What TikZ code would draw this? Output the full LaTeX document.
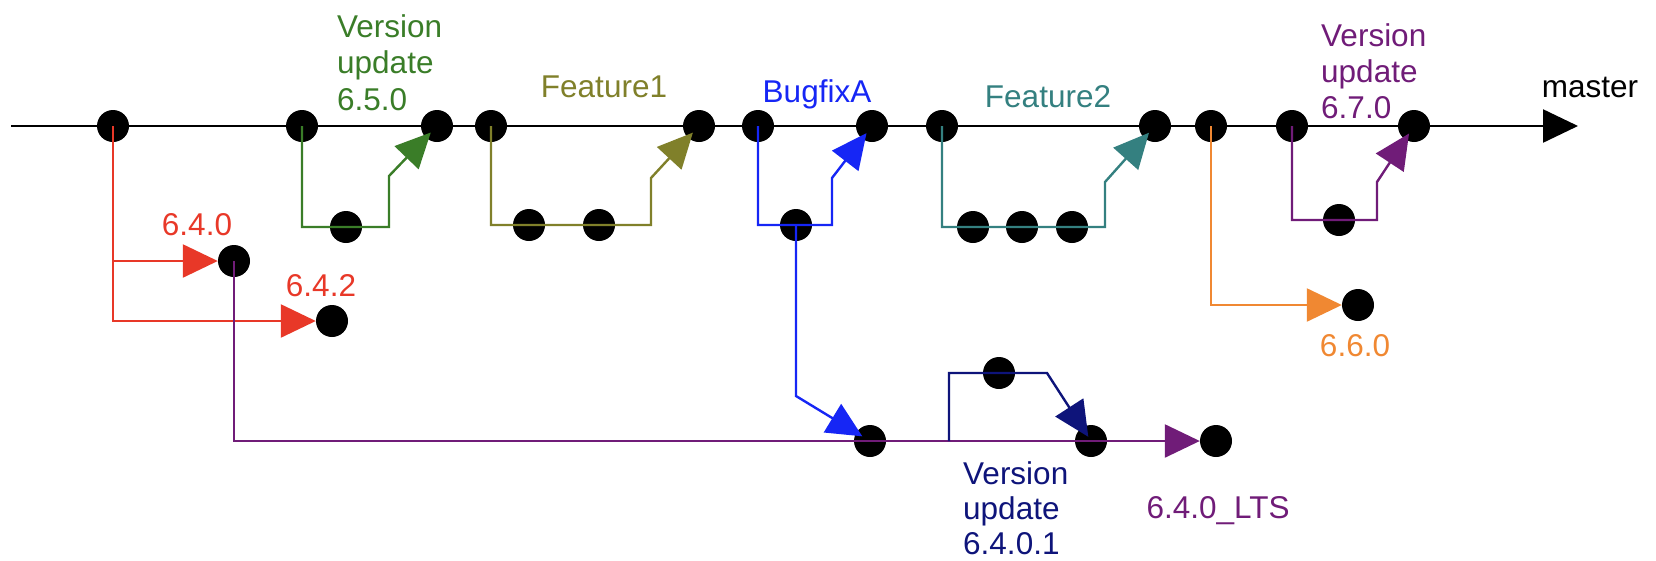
\documentclass[tikz,border=0pt]{standalone}
\usepackage{fontspec}
\setmainfont{Liberation Sans}
\usetikzlibrary{arrows.meta}
\definecolor{verGreen}{RGB}{58,125,40}
\definecolor{featOlive}{RGB}{128,128,42}
\definecolor{fixBlue}{RGB}{22,38,245}
\definecolor{featTeal}{RGB}{52,128,128}
\definecolor{relOrange}{RGB}{240,136,50}
\definecolor{verPurple}{RGB}{112,28,120}
\definecolor{relRed}{RGB}{232,56,40}
\definecolor{verNavy}{RGB}{14,20,122}
\begin{document}
\begin{tikzpicture}[x=1pt,y=-1pt,
  commit/.style={circle,fill=black,minimum size=32pt,inner sep=0pt},
  flow/.style={line width=2.4pt},
  merge/.style={flow,-{Triangle[length=35pt,width=33pt]}},
  lbl/.style={font=\fontsize{31.5}{36}\selectfont,inner sep=0pt,anchor=base},
  stack/.style={font=\fontsize{31.5}{36}\selectfont,inner sep=0pt,align=left,anchor=north west},
]
\useasboundingbox (0,0) rectangle (1656,560);

% commits on master
\node[commit] (m1)  at (113,126) {};
\node[commit] (m2)  at (302,126) {};
\node[commit] (m3)  at (437,126) {};
\node[commit] (m4)  at (491,126) {};
\node[commit] (m5)  at (699,126) {};
\node[commit] (m6)  at (758,126) {};
\node[commit] (m7)  at (872,126) {};
\node[commit] (m8)  at (942,126) {};
\node[commit] (m9)  at (1155,126) {};
\node[commit] (m10) at (1211,126) {};
\node[commit] (m11) at (1292,126) {};
\node[commit] (m12) at (1414,126) {};

% commits on side branches
\node[commit] (r1) at (234,261) {};
\node[commit] (r2) at (332,321) {};
\node[commit] (g1) at (346,227) {};
\node[commit] (o1) at (529,225) {};
\node[commit] (o2) at (599,225) {};
\node[commit] (b0) at (796,225) {};
\node[commit] (t1) at (973,227) {};
\node[commit] (t2) at (1022,227) {};
\node[commit] (t3) at (1072,227) {};
\node[commit] (p1) at (1339,220) {};
\node[commit] (or) at (1358,305) {};
\node[commit] (b1) at (870,441) {};
\node[commit] (d1) at (999,373) {};
\node[commit] (d2) at (1091,441) {};
\node[commit] (lts) at (1216,441) {};

% bends of the branch lines
\coordinate (mstart) at (11,126);
\coordinate (mend) at (1578,126);
\coordinate (gk) at (389,176);
\coordinate (ok) at (651,178);
\coordinate (bk) at (832,178);
\coordinate (bd) at (796,396);
\coordinate (tk) at (1105,182);
\coordinate (pk) at (1377,182);
\coordinate (nk0) at (949,441);
\coordinate (nk1) at (1047,373);

% master
\draw[merge,black] (mstart) -- (mend);

% releases 6.4.x
\draw[merge,relRed] (m1.center) |- (r2);
\draw[merge,relRed] (m1.center) |- (r1);

% version update 6.5.0
\draw[merge,verGreen,shorten >=9pt] (m2.center) |- (g1.center) -| (gk) -- (m3.center);

% feature 1
\draw[merge,featOlive,shorten >=9pt] (m4.center) |- (o1.center) -- (o2.center) -| (ok) -- (m5.center);

% bugfix A, merged into master and into the LTS line
\draw[merge,fixBlue,shorten >=9pt] (m6.center) |- (b0.center) -| (bk) -- (m7.center);
\draw[merge,fixBlue,shorten >=9pt] (b0.center) -- (bd) -- (b1.center);

% feature 2
\draw[merge,featTeal,shorten >=9pt] (m8.center) |- (t1.center) -- (t3.center) -| (tk) -- (m9.center);

% release 6.6.0
\draw[merge,relOrange] (m10.center) |- (or);

% version update 6.7.0
\draw[merge,verPurple,shorten >=9pt] (m11.center) |- (p1.center) -| (pk) -- (m12.center);

% LTS line
\draw[merge,verPurple] (r1.center) |- (lts);

% version update 6.4.0.1
\draw[merge,verNavy,shorten >=5pt] (nk0) |- (d1.center) -- (nk1) -- (d2.center);

% labels
\node[lbl] (lmaster) at (1590,97) {master};
\node[lbl,relRed] (l640) at (197,235) {6.4.0};
\node[lbl,relRed] (l642) at (321,296) {6.4.2};
\node[stack,verGreen,font=\fontsize{31.5}{36.5}\selectfont] (l650) at (337,14) {Version\\update\\6.5.0};
\node[lbl,featOlive] (lf1) at (604,97) {Feature1};
\node[lbl,fixBlue] (lbug) at (817,102) {BugfixA};
\node[lbl,featTeal] (lf2) at (1048,107) {Feature2};
\node[stack,verPurple] (l670) at (1321,23) {Version\\update\\6.7.0};
\node[lbl,relOrange] (l660) at (1355,356) {6.6.0};
\node[stack,verNavy,font=\fontsize{31.5}{35}\selectfont] (l6401) at (963,461) {Version\\update\\6.4.0.1};
\node[lbl,verPurple] (llts) at (1218,518) {6.4.0\_LTS};
\end{tikzpicture}
\end{document}
